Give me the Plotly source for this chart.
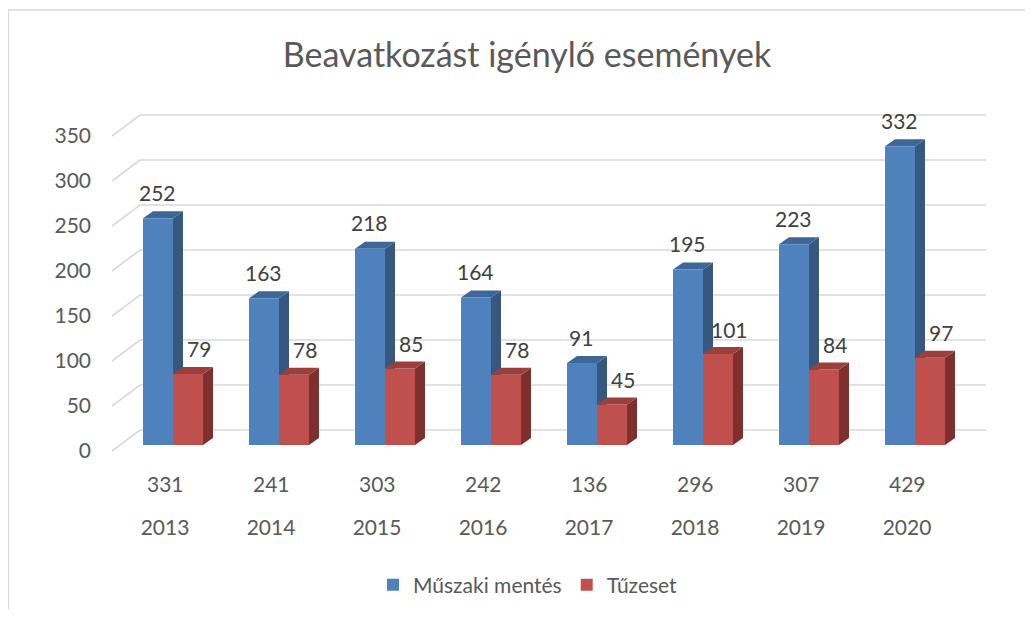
import plotly.graph_objects as go

years = ["2013", "2014", "2015", "2016", "2017", "2018", "2019", "2020"]
muszaki = [252, 163, 218, 164, 91, 195, 223, 332]
tuzeset = [79, 78, 85, 78, 45, 101, 84, 97]
totals = [331, 241, 303, 242, 136, 296, 307, 429]
y_ticks = [0, 50, 100, 150, 200, 250, 300, 350]

OFF = 8                                  # browser body margin
W, H = 1033 - 2 * OFF, 617 - 2 * OFF     # figure size
# layout positions below are given in screenshot pixels
L, R, T, B = 112, 986, 100, 470          # plot area
PX_PER_CAT = 106.0
PX_PER_UNIT = 0.9
X0_PX = 173.0                            # centre of first bar pair
Y0_PX = 445.0                            # value 0 of bars

x_lo = (L - X0_PX) / PX_PER_CAT
x_hi = (R - X0_PX) / PX_PER_CAT
y_lo = -(B - Y0_PX) / PX_PER_UNIT
y_hi = y_lo + (B - T) / PX_PER_UNIT

def px2x(px):
    return (px - X0_PX) / PX_PER_CAT

def pxdy(py):
    return py / PX_PER_UNIT

def px2paper(px):
    return (px - L) / (R - L)

def py2paper(py):
    return (B - py) / (B - T)

BW = 30 / PX_PER_CAT
DX = 10 / PX_PER_CAT
DY = pxdy(7)

blue, blue_top, blue_side = "#4F81BD", "#3D6699", "#36587F"
red, red_top, red_side = "#C0504D", "#9A3F3C", "#7E302F"
grey_txt = "#595959"
dark_txt = "#404040"
grid_col = "#D9D9D9"
FONT = "Lato"

xs = list(range(len(years)))

fig = go.Figure()
fig.add_trace(go.Bar(x=xs, y=muszaki, name="Műszaki mentés", marker_color=blue,
                     marker_line_width=0, width=BW, offset=-BW))
fig.add_trace(go.Bar(x=xs, y=tuzeset, name="Tűzeset", marker_color=red,
                     marker_line_width=0, width=BW, offset=0))

shapes = []
front_off = pxdy(-6)   # front wall scale offset
back_off = pxdy(15)    # back wall scale offset
for v in y_ticks:
    path = (f"M {px2x(112)},{v + front_off} L {px2x(140)},{v + back_off} "
            f"L {px2x(986)},{v + back_off}")
    shapes.append(dict(type="path", path=path, xref="x", yref="y", layer="below",
                       line=dict(color=grid_col, width=1.6)))

def faces(x_left, val, top_col, side_col, layer):
    x_right = x_left + BW
    side = (f"M {x_right},0 L {x_right + DX},{DY} L {x_right + DX},{val + DY} "
            f"L {x_right},{val} Z")
    top = (f"M {x_left},{val} L {x_left + DX},{val + DY} L {x_right + DX},{val + DY} "
           f"L {x_right},{val} Z")
    return [dict(type="path", path=side, xref="x", yref="y", layer=layer,
                 fillcolor=side_col, line=dict(width=0)),
            dict(type="path", path=top, xref="x", yref="y", layer=layer,
                 fillcolor=top_col, line=dict(width=0))]

for i in xs:
    shapes += faces(i - BW, muszaki[i], blue_top, blue_side, "below")
for i in xs:
    shapes += faces(i, tuzeset[i], red_top, red_side, "above")

# chart border (top and left)
shapes.append(dict(type="line", xref="paper", yref="paper",
                   x0=px2paper(8), x1=px2paper(1040), y0=py2paper(10), y1=py2paper(10),
                   line=dict(color=grid_col, width=1.5)))
shapes.append(dict(type="line", xref="paper", yref="paper",
                   x0=px2paper(8), x1=px2paper(8), y0=py2paper(10), y1=py2paper(630),
                   line=dict(color=grid_col, width=2)))

annotations = []
for i in xs:
    annotations.append(dict(x=i - BW / 2, y=muszaki[i], xref="x", yref="y",
                            text=str(muszaki[i]), showarrow=False, xshift=-1, yshift=26,
                            xanchor="center", yanchor="middle",
                            font=dict(family=FONT, size=21, color=dark_txt)))
    annotations.append(dict(x=i + BW / 2, y=tuzeset[i], xref="x", yref="y",
                            text=str(tuzeset[i]), showarrow=False, xshift=11, yshift=25,
                            xanchor="center", yanchor="middle",
                            font=dict(family=FONT, size=21, color=dark_txt)))
    annotations.append(dict(x=i, y=py2paper(483), xref="x", yref="paper",
                            text=str(totals[i]), showarrow=False, xshift=-8,
                            xanchor="center", yanchor="middle",
                            font=dict(family=FONT, size=21, color=grey_txt)))

fig.update_layout(
    width=W, height=H,
    margin=dict(l=L - OFF, r=W - (R - OFF), t=T - OFF, b=H - (B - OFF), autoexpand=False),
    paper_bgcolor="white", plot_bgcolor="rgba(0,0,0,0)",
    barmode="overlay",
    showlegend=True,
    title=dict(text="Beavatkozást igénylő események", x=px2paper(527), xref="paper",
               xanchor="center", y=1 - (55 - OFF) / H, yref="container", yanchor="middle",
               font=dict(family=FONT, size=34, color=grey_txt)),
    legend=dict(orientation="h", x=px2paper(528), xanchor="center",
                y=py2paper(585), yanchor="middle",
                font=dict(family=FONT, size=21, color=grey_txt),
                itemwidth=30, traceorder="normal"),
    xaxis=dict(range=[x_lo, x_hi], tickmode="array", tickvals=xs, ticktext=years,
               showgrid=False, zeroline=False, showline=False, ticks="",
               ticklabelshift=-8, ticklabelstandoff=43,
               tickfont=dict(family=FONT, size=21, color=grey_txt)),
    yaxis=dict(range=[y_lo, y_hi], tickmode="array", tickvals=y_ticks,
               showgrid=False, zeroline=False, showline=False, ticks="",
               ticklabelshift=6, ticklabelstandoff=20,
               tickfont=dict(family=FONT, size=21, color=grey_txt)),
    shapes=shapes,
    annotations=annotations,
)

fig.write_html("out.html")
